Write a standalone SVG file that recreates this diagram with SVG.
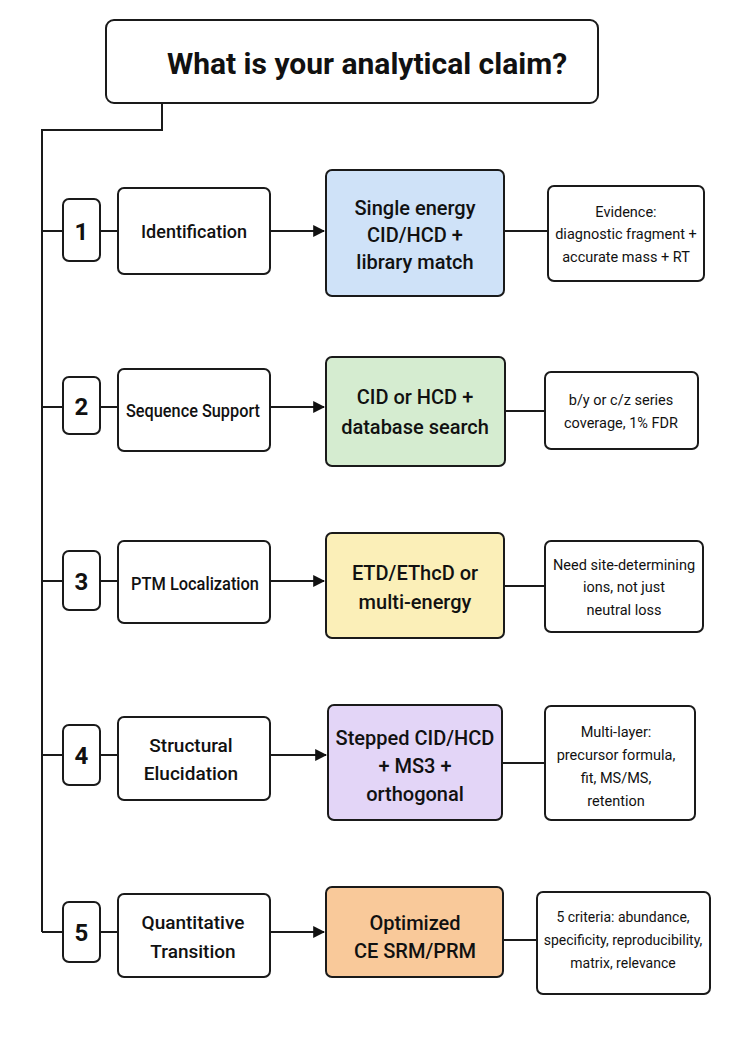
<svg xmlns="http://www.w3.org/2000/svg" width="738" height="1044" viewBox="0 0 738 1044">
<style>
.b{fill:#fff;stroke:#1a1a1a;stroke-width:2}
.l{fill:none;stroke:#1a1a1a;stroke-width:2}
text{font-family:Roboto,"Liberation Sans",sans-serif;fill:#111;text-anchor:middle}
.n{font-size:24px;font-weight:700}
.t{font-size:19px;font-weight:500}
.m{font-size:20px;font-weight:500}
.e{font-size:14.5px}
</style>
<defs><marker id="a" viewBox="0 0 10 10" refX="9" refY="5" markerWidth="12" markerHeight="12" markerUnits="userSpaceOnUse" orient="auto"><path d="M0,0L10,5L0,10z" fill="#111"/></marker></defs>
<rect width="738" height="1044" fill="#fff"/>
<g id="connectors">
<path class="l" d="M162,103V130H42V932"/>
<path class="l" d="M42,231H63M100,231H118M42,407H63M100,407H118M42,581H63M100,581H118M42,755H63M100,755H118M42,932H63M100,932H118"/>
<path class="l" d="M270,231H324" marker-end="url(#a)"/>
<path class="l" d="M270,407H324" marker-end="url(#a)"/>
<path class="l" d="M270,581H324" marker-end="url(#a)"/>
<path class="l" d="M270,755H326" marker-end="url(#a)"/>
<path class="l" d="M270,932H324" marker-end="url(#a)"/>
<path class="l" d="M504,231H548M505,411H545M504,586H545M502,763H545M503,940H537"/>
</g>
<g id="title"><rect class="b" x="106" y="20" width="492" height="83" rx="8"/><text x="367" y="74" style="font-size:30px;font-weight:700">What is your analytical claim?</text></g>
<g id="row1">
<rect class="b" x="63" y="199" width="37" height="62" rx="6"/><text class="n" x="81.5" y="240">1</text>
<rect class="b" x="118" y="188" width="152" height="86" rx="6"/><text class="t" x="194" y="238" textLength="106" lengthAdjust="spacingAndGlyphs">Identification</text>
<rect x="326" y="170" width="178" height="126" rx="6" fill="#cfe2f8" stroke="#1a1a1a" stroke-width="2"/><text class="m"><tspan x="415" y="215">Single energy</tspan><tspan x="415" y="242">CID/HCD +</tspan><tspan x="415" y="269">library match</tspan></text>
<rect class="b" x="548" y="186" width="156" height="95" rx="6"/><text class="e"><tspan x="626" y="217">Evidence:</tspan><tspan x="626" y="239">diagnostic fragment +</tspan><tspan x="626" y="262">accurate mass + RT</tspan></text>
</g>
<g id="row2">
<rect class="b" x="63" y="377" width="37" height="57" rx="6"/><text class="n" x="81.5" y="415">2</text>
<rect class="b" x="118" y="369" width="152" height="82" rx="6"/><text class="t" x="193" y="417" textLength="134" lengthAdjust="spacingAndGlyphs">Sequence Support</text>
<rect x="326" y="357" width="179" height="109" rx="6" fill="#d5ecd0" stroke="#1a1a1a" stroke-width="2"/><text class="m"><tspan x="415" y="404">CID or HCD +</tspan><tspan x="415" y="434">database search</tspan></text>
<rect class="b" x="545" y="372" width="153" height="77" rx="6"/><text class="e"><tspan x="621" y="405">b/y or c/z series</tspan><tspan x="621" y="428">coverage, 1% FDR</tspan></text>
</g>
<g id="row3">
<rect class="b" x="63" y="551" width="37" height="59" rx="6"/><text class="n" x="81.5" y="590">3</text>
<rect class="b" x="118" y="541" width="152" height="82" rx="6"/><text class="t" x="195" y="590" textLength="128" lengthAdjust="spacingAndGlyphs">PTM Localization</text>
<rect x="326" y="533" width="178" height="105" rx="6" fill="#fbefb8" stroke="#1a1a1a" stroke-width="2"/><text class="m"><tspan x="415" y="580">ETD/EThcD or</tspan><tspan x="415" y="609">multi-energy</tspan></text>
<rect class="b" x="545" y="541" width="158" height="91" rx="6"/><text class="e"><tspan x="624" y="570">Need site-determining</tspan><tspan x="624" y="592">ions, not just</tspan><tspan x="624" y="615">neutral loss</tspan></text>
</g>
<g id="row4">
<rect class="b" x="63" y="725" width="37" height="60" rx="6"/><text class="n" x="81.5" y="764">4</text>
<rect class="b" x="118" y="717" width="152" height="83" rx="6"/><text class="t"><tspan x="191" y="752">Structural</tspan><tspan x="191" y="780">Elucidation</tspan></text>
<rect x="328" y="705" width="174" height="115" rx="6" fill="#e3d5f7" stroke="#1a1a1a" stroke-width="2"/><text class="m"><tspan x="415" y="745">Stepped CID/HCD</tspan><tspan x="415" y="773">+ MS3 +</tspan><tspan x="415" y="801">orthogonal</tspan></text>
<rect class="b" x="545" y="706" width="150" height="114" rx="6"/><text class="e"><tspan x="616" y="737">Multi-layer:</tspan><tspan x="616" y="760">precursor formula,</tspan><tspan x="616" y="783">fit, MS/MS,</tspan><tspan x="616" y="806">retention</tspan></text>
</g>
<g id="row5">
<rect class="b" x="63" y="902" width="37" height="60" rx="6"/><text class="n" x="81.5" y="941">5</text>
<rect class="b" x="118" y="894" width="152" height="83" rx="6"/><text class="t"><tspan x="193" y="929">Quantitative</tspan><tspan x="193" y="958">Transition</tspan></text>
<rect x="326" y="887" width="177" height="90" rx="6" fill="#f9c99a" stroke="#1a1a1a" stroke-width="2"/><text class="m"><tspan x="415" y="930">Optimized</tspan><tspan x="415" y="958">CE SRM/PRM</tspan></text>
<rect class="b" x="537" y="892" width="173" height="102" rx="6"/><text class="e" style="font-size:14px"><tspan x="623" y="922">5 criteria: abundance,</tspan><tspan x="623" y="945">specificity, reproducibility,</tspan><tspan x="623" y="968">matrix, relevance</tspan></text>
</g>
</svg>
